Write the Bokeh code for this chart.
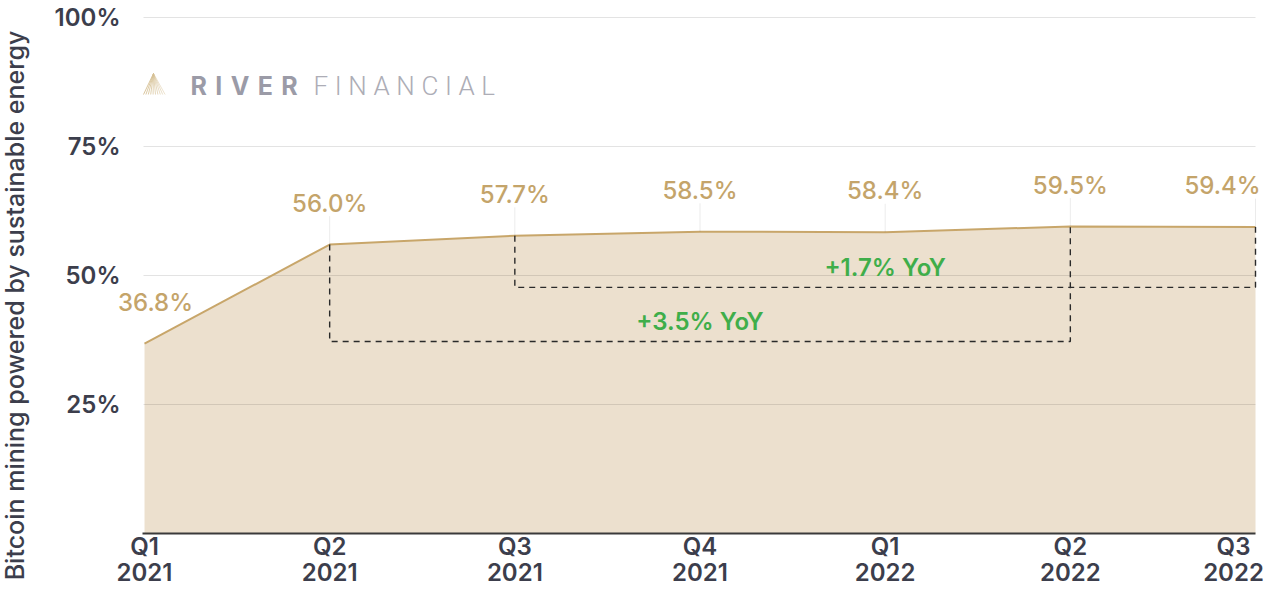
import math
from bokeh.plotting import figure
from bokeh.models import Range1d
from bokeh.core.properties import value
from bokeh.embed import file_html
from bokeh.resources import INLINE

# ---- data ----
quarters = ["Q1", "Q2", "Q3", "Q4", "Q1", "Q2", "Q3"]
years = ["2021", "2021", "2021", "2021", "2022", "2022", "2022"]
share = [36.8, 56.0, 57.7, 58.5, 58.4, 59.5, 59.4]
y_ticks = [25, 50, 75, 100]
y_tick_labels = ["25%", "50%", "75%", "100%"]
yoy_start = [1, 2]
yoy_end = [5, 6]
yoy_text = ["+3.5% YoY", "+1.7% YoY"]
yoy_floor = [37.2, 47.7]   # bottom edge of each dashed bracket

GOLD = "#c4a46a"
LINE = "#c8a66a"
FILL = "#ece0ce"
DARK = "#3c3e4c"
GREEN = "#3fae4a"
SEMI = "'Inter SemiBold', 'Inter Semi Bold', Inter"
MED = "'Inter Medium', Inter"

W, H = 1264, 588
# layout: pixel positions of the plotting area (x index 0..n-1, y 0..100)
PX_X0, PX_X1 = 144, 1255
PX_Y0, PX_Y100 = 533, 17
n = len(share)
sx = (PX_X1 - PX_X0) / (n - 1)
sy = (PX_Y0 - PX_Y100) / 100.0
x_start = -PX_X0 / sx
x_end = (n - 1) + (W - PX_X1) / sx
y_start = -(H - PX_Y0) / sy
y_end = 100 + PX_Y100 / sy


def px2x(px):
    return (px - PX_X0) / sx


def px2y(py):
    return (PX_Y0 - py) / sy


x = list(range(n))

p = figure(width=W, height=H, output_backend="svg", toolbar_location=None,
           x_range=Range1d(x_start, x_end), y_range=Range1d(y_start, y_end),
           x_axis_location=None, y_axis_location=None, min_border=0)
p.outline_line_color = None
p.xgrid.visible = False
p.ygrid.visible = False
p.background_fill_color = "white"
p.border_fill_color = "white"

# area
p.varea(x=x, y1=[0] * n, y2=share, fill_color=FILL)

# gridlines (drawn over the area)
p.segment(x0=[px2x(143)] * len(y_ticks), x1=[n - 1] * len(y_ticks), y0=y_ticks, y1=y_ticks,
          line_color="#000000", line_alpha=0.11, line_width=1)

# y tick labels
p.text(x=[px2x(120)] * len(y_ticks), y=y_ticks, text=y_tick_labels, text_align="right",
       text_baseline="middle", text_color=DARK, text_font=value(SEMI),
       text_font_size="24px")

# axis baseline
p.line(x=[px2x(142), n - 1], y=[0, 0], line_color="#3a3a3a", line_width=2)

# line
p.line(x=x, y=share, line_color=LINE, line_width=2)

# faint connectors from label to point
p.segment(x0=x[1:], y0=share[1:], x1=x[1:], y1=[v + 5.5 for v in share[1:]],
          line_color="#000000", line_alpha=0.08, line_width=1)

# dashed YoY brackets
for s, e, fl, t in zip(yoy_start, yoy_end, yoy_floor, yoy_text):
    p.line(x=[s, s, e, e], y=[share[s], fl, fl, share[e]], line_color="#2a2a2a",
           line_width=1.4, line_dash="6 5")
    p.text(x=[(s + e) / 2], y=[fl + 3.85], text=[t], text_align="center",
           text_baseline="middle", text_color=GREEN, text_font=value(SEMI),
           text_font_size="24px")

# data labels
offs = [11] + [0] * (n - 2) + [-33]
p.text(x=x, y=[v + 8 for v in share], x_offset=offs, text=[f"{v:.1f}%" for v in share],
       text_align="center", text_baseline="middle", text_color=GOLD,
       text_font=value(MED), text_font_size="24px")

# x labels (two lines)
xoffs = [0] * (n - 1) + [-22]
p.text(x=x, y=[px2y(546)] * n, x_offset=xoffs, text=quarters, text_align="center",
       text_baseline="middle", text_color=DARK, text_font=value(SEMI), text_font_size="24px")
p.text(x=x, y=[px2y(571)] * n, x_offset=xoffs, text=years, text_align="center",
       text_baseline="middle", text_color=DARK, text_font=value(SEMI), text_font_size="24px")

# y axis title
p.text(x=[px2x(14)], y=[px2y(305)], text=["Bitcoin mining powered by sustainable energy"],
       angle=math.pi / 2, text_align="center", text_baseline="middle",
       text_color=DARK, text_font=value(MED), text_font_size="25px")

# watermark
for k in range(10):
    p.line(x=[px2x(153), px2x(143 + k * 2.4)], y=[px2y(73), px2y(94)],
           line_color="#d6c094", line_width=1, line_alpha=0.9 - k * 0.05)
p.text(x=[px2x(190)], y=[px2y(85)], text=["R\u2004I\u2004V\u2004E\u2004R"], text_align="left",
       text_baseline="middle", text_color="#9b9ba7", text_font=value("Inter"),
       text_font_size="25px", text_font_style=value("bold"))
p.text(x=[px2x(313)], y=[px2y(85)], text=["\u2005".join("FINANCIAL")], text_align="left",
       text_baseline="middle", text_color="#adadb6",
       text_font=value("'Roboto Light', 'Lato Light', Inter"), text_font_size="26px")

open("out.html", "w").write(file_html(p, INLINE))
